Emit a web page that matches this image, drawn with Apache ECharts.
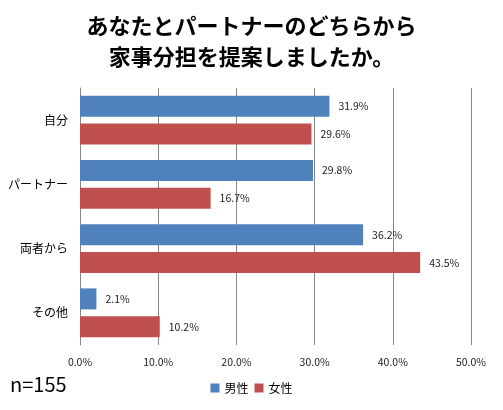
<!DOCTYPE html>
<html>
<head>
<meta charset="utf-8">
<script src="https://cdn.jsdelivr.net/npm/echarts@6/dist/echarts.min.js"></script>
<style>
html, body { margin: 0; padding: 0; background: #fff; }
#main { width: 503px; height: 410px; }
</style>
</head>
<body>
<div id="main"></div>
<script>
var categories = ["自分", "パートナー", "両者から", "その他"];
var seriesNames = ["男性", "女性"];
var maleValues = [31.9, 29.8, 36.2, 2.1];
var femaleValues = [29.6, 16.7, 43.5, 10.2];
var xTicks = [0, 10, 20, 30, 40, 50];

var font = "'Noto Sans CJK JP', sans-serif";
var chart = echarts.init(document.getElementById("main"));

function labelStyle() {
    return {
        show: true,
        position: "right",
        distance: 9,
        fontSize: 10.5,
        fontFamily: font,
        color: "#222",
        formatter: function(p) { return p.value.toFixed(1) + "%"; }
    };
}

chart.setOption({
    animation: false,
    title: {
        text: "あなたとパートナーのどちらから\n家事分担を提案しましたか。",
        left: "center",
        top: 5,
        textStyle: { fontFamily: font, fontSize: 22, fontWeight: "bold", color: "#000", lineHeight: 31 }
    },
    graphic: [{
        type: "text",
        left: 10,
        top: 374,
        style: { text: "n=155", font: "20px " + font, fill: "#000" }
    }],
    legend: {
        bottom: 11,
        left: "center",
        itemWidth: 9,
        itemHeight: 9,
        itemGap: 6,
        icon: "rect",
        textStyle: { fontFamily: font, fontSize: 12, color: "#000" },
        data: seriesNames
    },
    grid: { left: 80, right: 32, top: 88, bottom: 65 },
    xAxis: {
        type: "value",
        min: xTicks[0],
        max: xTicks[xTicks.length - 1],
        interval: 10,
        axisLine: { show: false },
        axisTick: { show: false },
        splitLine: { lineStyle: { color: "#868686", width: 1 } },
        axisLabel: { fontFamily: font, fontSize: 10.5, color: "#222", margin: 12,
            formatter: function(v) { return v.toFixed(1) + "%"; } }
    },
    yAxis: {
        type: "category",
        inverse: true,
        data: categories,
        axisLine: { lineStyle: { color: "#868686" } },
        axisTick: { show: false },
        axisLabel: { fontFamily: font, fontSize: 12, color: "#000", margin: 12 }
    },
    series: [{
        name: seriesNames[0],
        type: "bar",
        data: maleValues,
        barWidth: 21,
        barGap: "33%",
        itemStyle: { color: "#4F81BD" },
        label: labelStyle()
    }, {
        name: seriesNames[1],
        type: "bar",
        data: femaleValues,
        barWidth: 21,
        itemStyle: { color: "#C0504D" },
        label: labelStyle()
    }]
});
</script>
</body>
</html>
